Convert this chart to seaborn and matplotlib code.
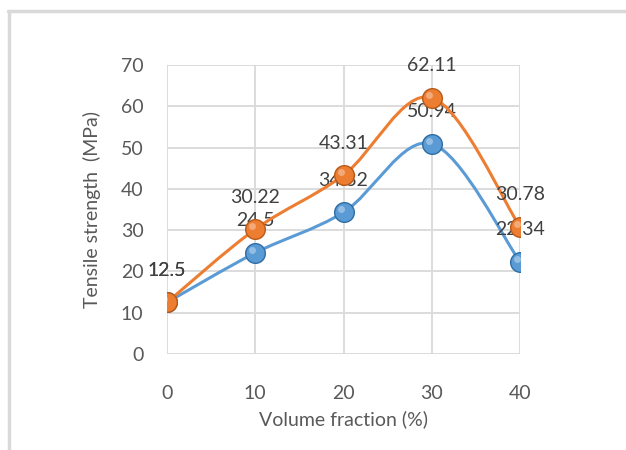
import numpy as np
import pandas as pd
import matplotlib
matplotlib.use("Agg")
import matplotlib.pyplot as plt
from matplotlib.path import Path
from matplotlib.patches import PathPatch
from matplotlib.lines import Line2D
import seaborn as sns

# data
volume_fraction = [0, 10, 20, 30, 40]
series_a = [12.5, 24.5, 34.32, 50.94, 22.34]    # blue
series_b = [12.5, 30.22, 43.31, 62.11, 30.78]   # orange
y_ticks = [0, 10, 20, 30, 40, 50, 60, 70]

BLUE = "#5B9BD5"
ORANGE = "#ED7D31"
TEXT = "#595959"
LABEL = "#404040"
GRID = "#D9D9D9"

sns.set_theme(style="white")
plt.rcParams['font.family'] = ['Lato', 'DejaVu Sans']


def smooth_path(xs, ys):
    # Excel-like smoothed line: cubic Bezier through the points (Catmull-Rom tangents)
    pts = np.column_stack([xs, ys]).astype(float)
    verts = [pts[0]]
    codes = [Path.MOVETO]
    n = len(pts)
    for i in range(n - 1):
        p0 = pts[max(i - 1, 0)]
        p1 = pts[i]
        p2 = pts[i + 1]
        p3 = pts[min(i + 2, n - 1)]
        c1 = p1 + (p2 - p0) / 6.0
        c2 = p2 - (p3 - p1) / 6.0
        verts += [c1, c2, p2]
        codes += [Path.CURVE4] * 3
    return Path(verts, codes)


fig = plt.figure(figsize=(6.26, 4.5), dpi=100)
ax = fig.add_axes([167 / 626, 1 - 354 / 450, (520 - 167) / 626, (354 - 65) / 450])

df = pd.DataFrame({
    "x": volume_fraction * 2,
    "y": series_a + series_b,
    "s": ["a"] * len(series_a) + ["b"] * len(series_b),
})

z = 3
for key, vals, col, edge in [("a", series_a, BLUE, "#2E6DA4"), ("b", series_b, ORANGE, "#B85A17")]:
    ax.add_patch(PathPatch(smooth_path(volume_fraction, vals), facecolor="none",
                           edgecolor=col, lw=2.2, zorder=z, capstyle="round"))
    sns.scatterplot(data=df[df.s == key], x="x", y="y", ax=ax, color=col, s=200,
                    edgecolor=edge, linewidth=1.0, zorder=z + 1, legend=False)
    # small highlight to hint at the glossy sphere markers
    ax.plot(volume_fraction, vals, linestyle="none", marker="o", ms=5,
            mfc="white", mec="none", alpha=0.35, zorder=z + 1.5,
            transform=ax.transData + matplotlib.transforms.ScaledTranslation(-3 / 100, 3 / 100, fig.dpi_scale_trans))
    for xv, yv in zip(volume_fraction, vals):
        ax.annotate(f"{yv:g}", (xv, yv), xytext=(0, 23), textcoords="offset points",
                    ha="center", va="center", fontsize=14, color=LABEL, zorder=z + 2)
    z += 3

ax.set_xlim(0, 40)
ax.set_ylim(0, 70)
ax.set_xticks(volume_fraction)
ax.set_yticks(y_ticks)
ax.grid(True, color=GRID, lw=1.3)
ax.set_axisbelow(True)
for sp in ax.spines.values():
    sp.set_visible(False)
ax.tick_params(axis="both", length=0, labelsize=14, labelcolor=TEXT)
ax.tick_params(axis="x", pad=22)
ax.tick_params(axis="y", pad=17)
ax.set_xlabel("Volume fraction (%)", fontsize=14, color=TEXT, labelpad=6)
ax.set_ylabel("Tensile strength  (MPa)", fontsize=14, color=TEXT, labelpad=14)

# outer chart frame (only top and left edges visible in the crop)
fig.add_artist(Line2D([8 / 626, 1], [1 - 11 / 450, 1 - 11 / 450], color=GRID, lw=2.5))
fig.add_artist(Line2D([9 / 626, 9 / 626], [0, 1 - 11 / 450], color=GRID, lw=2.5))

fig.savefig("out.png", dpi=100)
